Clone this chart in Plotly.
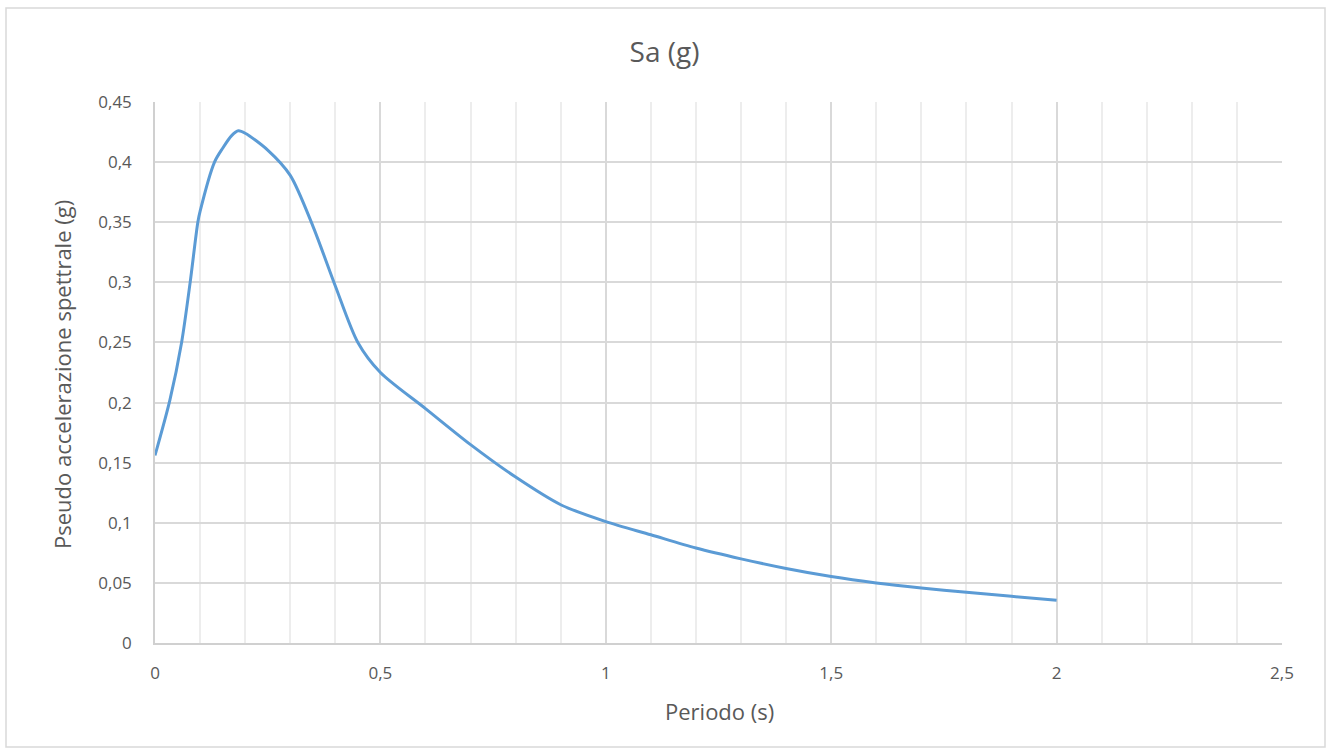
import plotly.graph_objects as go

# Period (s) and spectral pseudo-acceleration (g)
periodo = [0.0, 0.033, 0.059, 0.078, 0.095, 0.1, 0.132, 0.15, 0.17, 0.185, 0.2, 0.25, 0.3, 0.35, 0.4, 0.45,
           0.5, 0.6, 0.7, 0.8, 0.9, 1.0, 1.1, 1.2, 1.3, 1.4, 1.5, 1.6, 1.7, 1.8, 1.9, 2.0]
sa = [0.156, 0.202, 0.250, 0.300, 0.350, 0.359, 0.400, 0.4115, 0.422, 0.426, 0.424, 0.410, 0.389, 0.347, 0.297, 0.250,
      0.225, 0.195, 0.165, 0.138, 0.115, 0.101, 0.090, 0.079, 0.070, 0.062, 0.0553, 0.0500, 0.0458, 0.0422, 0.0388, 0.0355]

x_ticks = [0, 0.5, 1, 1.5, 2, 2.5]
x_labels = ["0", "0,5", "1", "1,5", "2", "2,5"]
y_ticks = [0, 0.05, 0.1, 0.15, 0.2, 0.25, 0.3, 0.35, 0.4, 0.45]
y_labels = ["0", "0,05", "0,1", "0,15", "0,2", "0,25", "0,3", "0,35", "0,4", "0,45"]

FONT = "Open Sans"
GREY = "#595959"

fig = go.Figure()
fig.add_trace(go.Scatter(x=periodo, y=sa, mode="lines",
                         line=dict(color="#5B9BD5", width=3, shape="spline", smoothing=0.8),
                         showlegend=False, hoverinfo="skip"))

W, H = 1329, 749
L, R, T, B = 155, 1282, 102, 643

def px2paper_x(px):
    return (px - L) / (R - L)

def px2paper_y(py):
    return (B - py) / (B - T)

fig.update_layout(
    width=W, height=H,
    margin=dict(l=L, r=W - R, t=T, b=H - B),
    paper_bgcolor="white", plot_bgcolor="white",
    font=dict(family=FONT, color=GREY, size=17),
    title=dict(text="Sa (g)", x=0.5, xanchor="center", y=1 - 52 / H, yanchor="middle",
               font=dict(family=FONT, size=28, color=GREY)),
    xaxis=dict(range=[0, 2.5], tickvals=x_ticks, ticktext=x_labels, showgrid=True,
               gridcolor="#d9d9d9", gridwidth=1.5, zeroline=False, ticks="",
               showline=True, linecolor="#d0d0d0", linewidth=1.5, mirror=False,
               minor=dict(dtick=0.1, tick0=0, showgrid=True, gridcolor="#ededed", gridwidth=1.5),
               tickfont=dict(size=17, color=GREY), ticklabelstandoff=14),
    yaxis=dict(range=[0, 0.45], tickvals=y_ticks, ticktext=y_labels, showgrid=True,
               gridcolor="#d9d9d9", gridwidth=1.5, zeroline=False, ticks="",
               showline=True, linecolor="#d0d0d0", linewidth=1.5,
               tickfont=dict(size=17, color=GREY), ticklabelstandoff=18),
    annotations=[
        dict(text="Periodo (s)", xref="paper", yref="paper", x=px2paper_x(719), y=px2paper_y(711),
             xanchor="center", yanchor="middle", showarrow=False,
             font=dict(family=FONT, size=22, color=GREY)),
        dict(text="Pseudo accelerazione spettrale (g)", xref="paper", yref="paper",
             x=px2paper_x(62), y=px2paper_y(375), textangle=-90,
             xanchor="center", yanchor="middle", showarrow=False,
             font=dict(family=FONT, size=22, color=GREY)),
    ],
    shapes=[
        dict(type="rect", xref="paper", yref="paper",
             x0=px2paper_x(6), x1=px2paper_x(1325), y0=px2paper_y(747), y1=px2paper_y(8),
             line=dict(color="#d9d9d9", width=1.5), fillcolor="rgba(0,0,0,0)", layer="below"),
    ],
)

fig.write_html("out.html", config={"displayModeBar": False},
               post_script="document.body.style.margin='0';document.body.style.overflow='hidden';")
